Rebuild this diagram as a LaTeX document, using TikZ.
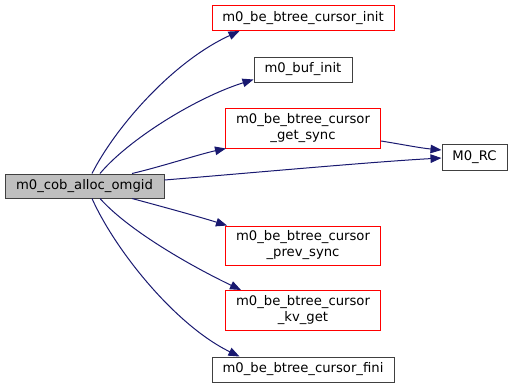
\documentclass[tikz,border=0pt]{standalone}
\usepackage{fontspec}
\setmainfont{DejaVu Sans}
\usepackage{tikz}
\usetikzlibrary{arrows,arrows.meta,positioning}

\definecolor{edgeblue}{HTML}{191970}
\definecolor{rootgrey}{HTML}{BFBFBF}

\begin{document}
\begin{tikzpicture}
%defines
  [x=1pt,y=-1pt,
   font=\fontsize{13.2}{16}\selectfont,
   fn/.style={rectangle,draw=black!75,line width=1pt,inner sep=0pt,
minimum height=25pt,align=center},
   fnred/.style={fn,draw=red},
   call/.style={draw=edgeblue,line width=1pt,
-{Triangle[length=11pt,width=8.5pt]}}]
\useasboundingbox (0,0) rectangle (513,388);
%nodes
\node[fn,fill=rootgrey,minimum width=159pt,minimum height=24pt] (alloc) at (84.5,186) {m0\_cob\_alloc\_omgid};
\node[fnred,minimum width=182pt]                  (cinit)  at (303,18)    {m0\_be\_btree\_cursor\_init};
\node[fn,minimum width=98pt]                      (bufinit) at (303,69.5) {m0\_buf\_init};
\node[fnred,minimum width=155pt,minimum height=40pt] (getsync) at (303,128) {m0\_be\_btree\_cursor\\\_get\_sync};
\node[fn,minimum width=65pt,minimum height=26pt]  (rc)     at (474.5,157) {M0\_RC};
\node[fnred,minimum width=155pt,minimum height=39pt] (prevsync) at (303,245.5) {m0\_be\_btree\_cursor\\\_prev\_sync};
\node[fnred,minimum width=155pt,minimum height=40pt] (kvget) at (303,310.5) {m0\_be\_btree\_cursor\\\_kv\_get};
\node[fn,minimum width=182pt]                     (fini)   at (303,369.5) {m0\_be\_btree\_cursor\_fini};
%links
\draw[call] ([xshift=7.5pt]alloc.north) .. controls (115,128) and (172,62) .. ([xshift=28pt]cinit.south west);
\draw[call] ([xshift=15.5pt]alloc.north) .. controls (128,140) and (195,98) .. ([yshift=3pt]bufinit.south west);
\draw[call] ([xshift=47.5pt]alloc.north) .. controls (160,167) and (200,154) .. ([xshift=1pt]getsync.south west);
\draw[call] ([yshift=6pt]alloc.east) .. controls (250,173) and (370,162) .. ([yshift=-1pt]rc.west);
\draw[call] ([yshift=-13pt]getsync.east) .. controls (400,144) and (420,148) .. ([yshift=7pt]rc.west);
\draw[call] ([xshift=47.5pt]alloc.south) .. controls (160,206) and (200,217) .. ([xshift=2pt]prevsync.north west);
\draw[call] ([xshift=15.5pt]alloc.south) .. controls (130,232) and (195,268) .. ([xshift=16pt]kvget.north west);
\draw[call] ([xshift=7.5pt]alloc.south) .. controls (115,250) and (175,325) .. ([xshift=28pt]fini.north west);
\end{tikzpicture}
\end{document}
